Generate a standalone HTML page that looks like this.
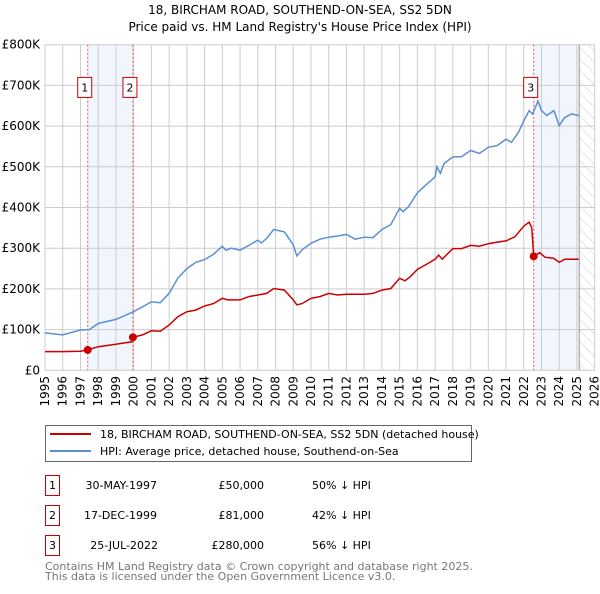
<!DOCTYPE html>
<html><head><meta charset="utf-8">
<style>
body{margin:0;background:#fff;font-family:"DejaVu Sans","Liberation Sans",sans-serif;}
svg text{font-family:"DejaVu Sans","Liberation Sans",sans-serif;}
</style></head>
<body>
<svg id="chart" width="600" height="590" viewBox="0 0 600 590" xmlns="http://www.w3.org/2000/svg">
<text x="300" y="14" text-anchor="middle" font-size="12" fill="#000">18, BIRCHAM ROAD, SOUTHEND-ON-SEA, SS2 5DN</text>
<text x="300" y="31" text-anchor="middle" font-size="12" fill="#000">Price paid vs. HM Land Registry's House Price Index (HPI)</text>
<defs><pattern id="hatch" width="8" height="8" patternUnits="userSpaceOnUse" patternTransform="rotate(-45)"><line x1="0" y1="0" x2="0" y2="8" stroke="#ccc" stroke-width="1"/></pattern></defs>
<g id="plot"></g>
<g>
<rect x="45.5" y="425.5" width="426" height="36" fill="#fff" stroke="#666"/>
<line x1="50" y1="434" x2="91" y2="434" stroke="#cc0000" stroke-width="2"/>
<text x="100" y="438" font-size="11">18, BIRCHAM ROAD, SOUTHEND-ON-SEA, SS2 5DN (detached house)</text>
<line x1="50" y1="451" x2="91" y2="451" stroke="#5b8fd4" stroke-width="2"/>
<text x="100" y="455" font-size="11">HPI: Average price, detached house, Southend-on-Sea</text>
</g>
<g font-size="11">
<rect x="45.5" y="475.5" width="14" height="20" fill="none" stroke="#cc0000"/><text x="52.5" y="489" text-anchor="middle">1</text>
<text x="157" y="489" text-anchor="end">30-MAY-1997</text><text x="264" y="489" text-anchor="end">£50,000</text><text x="312" y="489">50% ↓ HPI</text>
<rect x="45.5" y="505.5" width="14" height="20" fill="none" stroke="#cc0000"/><text x="52.5" y="519" text-anchor="middle">2</text>
<text x="157" y="519" text-anchor="end">17-DEC-1999</text><text x="264" y="519" text-anchor="end">£81,000</text><text x="312" y="519">42% ↓ HPI</text>
<rect x="45.5" y="535.5" width="14" height="20" fill="none" stroke="#cc0000"/><text x="52.5" y="549" text-anchor="middle">3</text>
<text x="158" y="549" text-anchor="end">25-JUL-2022</text><text x="264" y="549" text-anchor="end">£280,000</text><text x="312" y="549">56% ↓ HPI</text>
</g>
<text x="45" y="570" font-size="11" fill="#777">Contains HM Land Registry data © Crown copyright and database right 2025.</text>
<text x="45" y="580" font-size="11" fill="#777">This data is licensed under the Open Government Licence v3.0.</text>
</svg>
<script>
const hpiYears=[1995,1996,1997,1997.5,1998,1999,2000,2001,2001.5,2002,2002.5,2003,2003.5,2004,2004.5,2005,2005.2,2005.5,2006,2006.5,2007,2007.2,2007.5,2007.9,2008.5,2009,2009.2,2009.5,2010,2010.5,2011,2011.5,2012,2012.5,2013,2013.5,2014,2014.5,2015,2015.2,2015.5,2016,2016.5,2017,2017.1,2017.3,2017.5,2018,2018.5,2019,2019.5,2020,2020.5,2021,2021.3,2021.7,2022,2022.3,2022.5,2022.8,2023,2023.3,2023.7,2024,2024.3,2024.7,2025.1];
const hpiValues=[92,87,99,100,115,125,144,168,166,189,227,250,265,272,285,305,295,300,295,307,320,313,324,346,340,308,281,296,312,322,327,330,334,322,327,326,346,358,398,390,402,436,456,475,500,484,508,524,525,540,533,548,552,568,560,585,613,638,630,662,638,626,638,601,621,630,626];
const priceYears=[1995,1996,1997,1997.41,1998,1999,1999.9,1999.96,2000.5,2001,2001.5,2002,2002.5,2003,2003.5,2004,2004.5,2005,2005.3,2006,2006.5,2007,2007.5,2007.9,2008.5,2009,2009.2,2009.5,2010,2010.5,2011,2011.5,2012,2013,2013.5,2014,2014.5,2015,2015.3,2015.6,2016,2016.5,2017,2017.2,2017.4,2018,2018.5,2019,2019.5,2020,2020.5,2021,2021.5,2022,2022.3,2022.45,2022.56,2022.9,2023.2,2023.7,2024,2024.3,2024.7,2025.1];
const priceValues=[46,46,47,50,58,64,70,81,87,97,96,111,132,144,148,158,164,177,173,173,181,185,189,201,197,173,161,164,177,181,189,185,187,187,189,197,201,226,220,230,248,260,273,283,273,299,299,307,305,311,315,318,328,354,364,350,280,289,278,275,265,273,273,273];
const saleYears=[1997.41,1999.96,2022.56];
const saleValues=[50,81,280];
const saleLabels=["1","2","3"];
const yTicks=[0,100,200,300,400,500,600,700,800];
const yTickLabels=["£0","£100K","£200K","£300K","£400K","£500K","£600K","£700K","£800K"];
const xTicks=[1995,1996,1997,1998,1999,2000,2001,2002,2003,2004,2005,2006,2007,2008,2009,2010,2011,2012,2013,2014,2015,2016,2017,2018,2019,2020,2021,2022,2023,2024,2025,2026];

const X0=45,X1=594.7,Y0=370.3,Y1=44.7,xmin=1995,xmax=2026,ymax=800,dataEnd=2025.13;
const sx=v=>X0+(v-xmin)/(xmax-xmin)*(X1-X0);
const sy=v=>Y0-v/ymax*(Y0-Y1);
const NS="http://www.w3.org/2000/svg";
const plot=document.getElementById('plot');
function mk(tag,attrs,parent){const e=document.createElementNS(NS,tag);for(const k in attrs)e.setAttribute(k,attrs[k]);(parent||plot).appendChild(e);return e;}

let r=mk('rect',{x:sx(saleYears[0]),y:Y1,width:sx(saleYears[1])-sx(saleYears[0]),height:Y0-Y1,fill:'#eef3fc',opacity:0.8});


r=mk('rect',{x:sx(saleYears[2]),y:Y1,width:sx(dataEnd)-sx(saleYears[2]),height:Y0-Y1,fill:'#eef3fc',opacity:0.8});


r=mk('rect',{x:sx(dataEnd),y:Y1,width:X1-sx(dataEnd),height:Y0-Y1,fill:'url(#hatch)'});



yTicks.forEach((t,i)=>{
  const l=mk('line',{x1:X0,x2:X1,y1:sy(t),y2:sy(t),stroke:'#ccc','stroke-width':1});
  
  
  const tx=mk('text',{x:40,y:sy(t)+4,'text-anchor':'end','font-size':12,fill:'#000'});
  tx.textContent=yTickLabels[i];
  
  
});
xTicks.forEach(t=>{
  const l=mk('line',{x1:sx(t),x2:sx(t),y1:Y1,y2:Y0,stroke:'#ccc','stroke-width':1});
  
  
  const tx=mk('text',{x:0,y:0,'text-anchor':'end','font-size':12,fill:'#000',transform:`translate(${sx(t)+4},376) rotate(-90)`});
  tx.textContent=t;
  
  
});
const dl=mk('line',{x1:sx(dataEnd),x2:sx(dataEnd),y1:Y1,y2:Y0,stroke:'#999','stroke-width':1});



saleYears.forEach((y,i)=>{
  const l=mk('line',{x1:sx(y),x2:sx(y),y1:Y1,y2:Y0,stroke:'#e55','stroke-width':1,'stroke-dasharray':'2,2'});
  
  
  const bx=mk('rect',{x:sx(y)-10,y:sy(700)-8,width:14,height:20,fill:'#fff',stroke:'#cc0000'});
  
  
  const t=mk('text',{x:sx(y)-3,y:sy(700)+6,'text-anchor':'middle','font-size':11});
  t.textContent=saleLabels[i];
  
  
});
const pts=(xs,vs)=>xs.map((x,i)=>sx(x).toFixed(1)+','+sy(vs[i]).toFixed(1)).join(' ');
const hp=mk('polyline',{points:pts(hpiYears,hpiValues),fill:'none',stroke:'#5b8fd4','stroke-width':1.5});


const pp=mk('polyline',{points:pts(priceYears,priceValues),fill:'none',stroke:'#cc0000','stroke-width':1.5});


saleYears.forEach((y,i)=>{
  const c=mk('circle',{cx:sx(y),cy:sy(saleValues[i]),r:4,fill:'#cc0000'});
  
  
});
</script>
</body></html>
